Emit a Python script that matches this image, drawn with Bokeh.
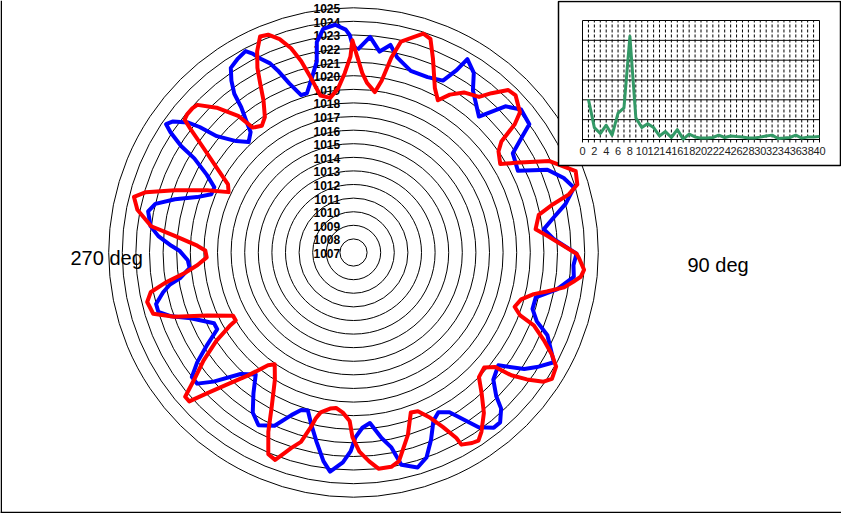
import numpy as np
from bokeh.plotting import figure
from bokeh.models import Range1d
from bokeh.core.properties import value
from bokeh.embed import file_html
from bokeh.resources import INLINE

# ---------------- data ----------------
ring_labels = [str(v) for v in range(1007, 1026)]
p_min = 1007

blue_deg = [1.1, 4.4, 7.4, 10.1, 12.6, 17.5, 22.9, 27.5, 29.5, 30.5, 33.8, 36.4, 42.7, 46.1, 49.5, 53.9, 55.4, 58.1,
            63.6, 66.9, 70.5, 73.6, 77.1, 79.9, 83.0, 86.1, 90.3, 93.3, 96.3, 98.4, 100.3, 103.8, 107.5, 110.6, 113.1,
            118.7, 122.0, 124.3, 127.9, 132.3, 135.2, 136.6, 139.2, 141.3, 144.4, 149.0, 152.0, 154.6, 157.5, 160.4,
            163.4, 167.3, 169.0, 171.4, 174.5, 177.1, 179.4, 180.8, 182.9, 186.1, 188.2, 191.0, 193.6, 196.1, 198.4,
            200.9, 204.5, 208.8, 212.2, 215.4, 218.7, 222.9, 227.3, 230.0, 232.4, 234.9, 237.8, 240.6, 243.1, 248.0,
            250.7, 253.1, 255.4, 258.2, 260.1, 261.7, 264.6, 267.3, 270.6, 272.1, 274.8, 277.4, 281.3, 283.8, 286.6,
            289.5, 292.3, 295.1, 297.9, 300.6, 301.7, 303.3, 304.4, 306.0, 308.1, 309.2, 310.4, 313.5, 316.5, 319.5,
            321.0, 322.3, 323.1, 324.6, 326.4, 329.2, 331.8, 333.1, 334.4, 336.2, 337.4, 339.2, 341.6, 343.7, 346.6,
            349.1, 350.1, 352.3, 355.4, 358.0, 359.0, 359.7]
blue_hpa = [1021.9, 1022.9, 1021.9, 1022.5, 1021.7, 1021.0, 1021.0, 1021.25, 1022.4, 1023.5, 1022.9, 1021.8, 1020.6,
            1022.5, 1023.2, 1023.0, 1022.1, 1020.8, 1020.5, 1022.5, 1023.4, 1023.9, 1023.0, 1022.0, 1021.1, 1021.75,
            1023.4, 1023.2, 1023.3, 1022.7, 1022.2, 1020.8, 1020.8, 1021.4, 1022.5, 1023.8, 1022.9, 1022.2, 1020.5,
            1020.9, 1021.9, 1022.8, 1023.5, 1023.5, 1022.8, 1020.7, 1020.3, 1020.7, 1021.9, 1023.0, 1023.5, 1023.0,
            1021.6, 1020.8, 1019.6, 1019.9, 1020.6, 1021.6, 1022.45, 1023.2, 1022.5, 1021.2, 1020.1, 1019.1, 1019.2,
            1019.8, 1021.0, 1021.5, 1020.9, 1019.7, 1018.5, 1019.2, 1021.0, 1022.0, 1022.0, 1021.05, 1019.7, 1018.5,
            1018.5, 1019.9, 1021.2, 1022.0, 1022.0, 1021.3, 1020.7, 1019.85, 1019.1, 1019.2, 1019.8, 1020.4, 1021.4,
            1022.05, 1022.4, 1022.0, 1020.7, 1019.2, 1018.3, 1018.3, 1019.2, 1020.6, 1021.9, 1023.1, 1023.7, 1023.4,
            1022.5, 1021.6, 1020.2, 1018.9, 1018.2, 1018.65, 1019.6, 1020.5, 1021.6, 1022.5, 1023.3, 1023.6, 1023.8,
            1023.4, 1022.8, 1022.2, 1021.5, 1020.3, 1019.2, 1019.2, 1020.2, 1021.3, 1022.7, 1023.6, 1023.8, 1023.4,
            1023.0, 1022.3]

red_deg = [1.1, 2.8, 4.6, 7.6, 9.3, 11.0, 12.7, 15.4, 17.7, 19.8, 22.3, 26.3, 29.0, 31.4, 34.6, 38.9, 40.9, 43.6,
           45.9, 49.9, 51.5, 53.1, 55.1, 58.9, 61.0, 65.0, 69.9, 73.1, 74.9, 76.4, 78.5, 82.7, 85.1, 90.3, 91.5, 94.3,
           96.1, 97.6, 99.4, 101.4, 103.0, 105.6, 108.6, 110.7, 112.0, 114.7, 117.2, 119.4, 122.5, 124.2, 126.2,
           127.9, 128.9, 131.4, 134.8, 137.7, 140.9, 144.5, 146.4, 148.1, 150.7, 151.0, 152.9, 155.1, 157.9, 160.3,
           163.4, 167.7, 170.0, 173.4, 175.7, 178.3, 180.3, 181.3, 183.8, 186.4, 188.5, 191.6, 192.8, 193.7, 195.5,
           197.7, 199.0, 200.7, 202.9, 205.4, 208.0, 211.7, 215.2, 217.2, 220.6, 223.5, 226.2, 227.8, 229.4, 231.4,
           234.2, 237.2, 239.3, 240.0, 242.3, 246.7, 250.3, 253.0, 256.5, 258.9, 260.9, 263.1, 265.4, 268.1, 270.8,
           272.5, 275.3, 277.4, 281.2, 284.2, 286.2, 289.2, 293.0, 295.8, 298.5, 301.7, 304.8, 307.1, 308.2, 309.7,
           311.9, 313.4, 316.6, 319.9, 321.1, 324.1, 326.8, 329.4, 331.1, 332.5, 334.4, 336.6, 338.6, 340.9, 343.0,
           344.7, 346.3, 348.1, 351.4, 354.6, 357.2, 359.1, 359.7]
red_hpa = [1021.4, 1020.2, 1019.5, 1018.9, 1019.8, 1021.6, 1022.9, 1023.4, 1023.9, 1023.7, 1022.4, 1020.5, 1019.8,
           1020.6, 1021.3, 1021.7, 1022.5, 1023.5, 1023.6, 1023.0, 1022.15, 1020.6, 1020.0, 1019.6, 1020.6, 1022.9,
           1024.4, 1024.2, 1023.4, 1022.1, 1020.9, 1020.5, 1021.3, 1023.4, 1023.6, 1024.0, 1023.8, 1023.3, 1022.7,
           1021.5, 1020.6, 1019.8, 1019.5, 1020.1, 1021.3, 1022.4, 1023.4, 1024.1, 1024.3, 1023.9, 1022.8, 1021.7,
           1020.4, 1019.8, 1020.0, 1021.0, 1022.2, 1023.2, 1023.6, 1023.5, 1023.2, 1022.6, 1021.4, 1020.4, 1019.6,
           1019.5, 1021.0, 1022.7, 1023.0, 1023.0, 1022.4, 1021.65, 1020.6, 1019.4, 1018.8, 1018.5, 1018.6, 1019.0,
           1019.5, 1020.2, 1021.45, 1022.1, 1022.6, 1023.3, 1023.1, 1021.6, 1019.8, 1018.0, 1017.05, 1017.4, 1018.9,
           1020.3, 1022.0, 1023.3, 1023.3, 1022.0, 1020.6, 1019.0, 1017.6, 1017.0, 1017.0, 1018.7, 1021.0, 1022.4,
           1022.6, 1022.2, 1021.0, 1019.5, 1018.5, 1017.8, 1017.9, 1018.5, 1020.2, 1022.0, 1023.2, 1023.65, 1022.9,
           1020.9, 1018.7, 1017.2, 1017.5, 1018.8, 1020.4, 1022.0, 1022.8, 1022.9, 1022.9, 1022.8, 1021.65, 1020.1,
           1018.8, 1018.5, 1018.9, 1020.0, 1021.2, 1022.3, 1023.4, 1024.3, 1024.2, 1023.6, 1022.7, 1021.6, 1020.2,
           1018.8, 1018.5, 1019.1, 1020.2, 1021.4, 1022.6]

spec_x = list(range(1, 41))
spec_y = [2.03, 0.6, 0.3, 0.72, 0.22, 1.33, 1.6, 5.2, 1.1, 0.6, 0.8, 0.6, 0.18, 0.4, 0.1, 0.5, 0.02, 0.27, 0.13,
          0.07, 0.07, 0.1, 0.22, 0.1, 0.18, 0.15, 0.13, 0.08, 0.08, 0.12, 0.18, 0.22, 0.05, 0.07, 0.1, 0.22, 0.07,
          0.12, 0.13, 0.15]
spec_ticks = list(range(0, 41, 2))
spec_xmax = 40
spec_ymax = 6

# ---------------- layout (pixels) ----------------
W, H = 841, 513
cx, cy = 353, 252          # polar centre in canvas pixels (from top-left)
s = 13.6                   # pixels per hPa
# inset plot area in canvas pixels
ix0, ix1 = 582, 819
iy_top, iy_bot = 20, 139
box_l, box_r, box_t, box_b = 558, 840, 1, 165

p = figure(width=W, height=H, output_backend="svg", toolbar_location=None,
           x_range=Range1d(-cx / s, (W - cx) / s), y_range=Range1d(-(H - cy) / s, cy / s),
           min_border=0, outline_line_color=None, background_fill_color="white",
           border_fill_color="white")
p.axis.visible = False
p.grid.visible = False

# inset ranges
sx = (ix1 - ix0) / spec_xmax
sy = (iy_bot - iy_top) / spec_ymax
p.extra_x_ranges = {"ins": Range1d(-ix0 / sx, (W - ix0) / sx)}
p.extra_y_ranges = {"ins": Range1d(-(H - iy_bot) / sy, iy_bot / sy)}

# rings
radii = [v - p_min for v in range(1008, 1026)]
p.circle(x=[0] * len(radii), y=[0] * len(radii), radius=radii, fill_color=None,
         line_color="black", line_width=1)

# ring labels
p.text(x=[-0.98] * len(ring_labels), y=[v - p_min - 0.07 for v in range(1007, 1026)], text=ring_labels,
       text_font=value("Liberation Sans"), text_font_size="12px", text_font_style="bold",
       text_align="right", text_baseline="middle", text_color="black")


def polar(deg, hpa):
    t = np.radians(np.array(deg + deg[:1]))
    r = np.array(hpa + hpa[:1]) - p_min
    return r * np.sin(t), r * np.cos(t)


bx, by = polar(blue_deg, blue_hpa)
rx, ry = polar(red_deg, red_hpa)
p.line(bx, by, line_color="#0000ff", line_width=4, line_join="round")
p.line(rx, ry, line_color="#ff0000", line_width=4, line_join="round")

# direction labels
p.text(x=[(70 - cx) / s, (687 - cx) / s], y=[(cy - 257) / s, (cy - 264) / s], text=["270 deg", "90 deg"],
       text_font=value("Liberation Sans"), text_font_size="20px", text_align="left",
       text_baseline="alphabetic", text_color="black")

# frame lines at page edge
p.segment(x0=[(0.75 - cx) / s, (0 - cx) / s], y0=[(cy - 0) / s, (cy - 512) / s],
          x1=[(0.75 - cx) / s, (W - cx) / s], y1=[(cy - 513) / s, (cy - 512) / s],
          line_color="black", line_width=1.5)

# ---------------- inset ----------------
p.quad(left=[(box_l - ix0) / sx], right=[(box_r - ix0) / sx], top=[(iy_bot - box_t) / sy],
       bottom=[(iy_bot - box_b) / sy], fill_color="white", line_color="black", line_width=1.5,
       x_range_name="ins", y_range_name="ins")
inner = list(range(1, spec_xmax))
p.segment(x0=inner, x1=inner, y0=[-0.15] * len(inner), y1=[spec_ymax] * len(inner),
          line_color="black", line_width=1, line_dash="3 2", x_range_name="ins", y_range_name="ins")
hy = list(range(0, spec_ymax + 1))
p.segment(x0=[0] * len(hy), x1=[spec_xmax] * len(hy), y0=hy, y1=hy, line_color="black", line_width=1,
          x_range_name="ins", y_range_name="ins")
p.segment(x0=[0, spec_xmax], x1=[0, spec_xmax], y0=[-0.15, -0.15], y1=[spec_ymax, spec_ymax],
          line_color="black", line_width=1, x_range_name="ins", y_range_name="ins")
p.line(spec_x, spec_y, line_color="#339966", line_width=3, line_join="round",
       x_range_name="ins", y_range_name="ins")
p.text(x=spec_ticks, y=[(iy_bot - 150) / sy] * len(spec_ticks), text=[str(t) for t in spec_ticks],
       text_font=value("Liberation Sans"), text_font_size="11px", text_align="center",
       text_baseline="middle", text_color="#222222", x_range_name="ins", y_range_name="ins")

open("out.html", "w").write(file_html(p, INLINE))
